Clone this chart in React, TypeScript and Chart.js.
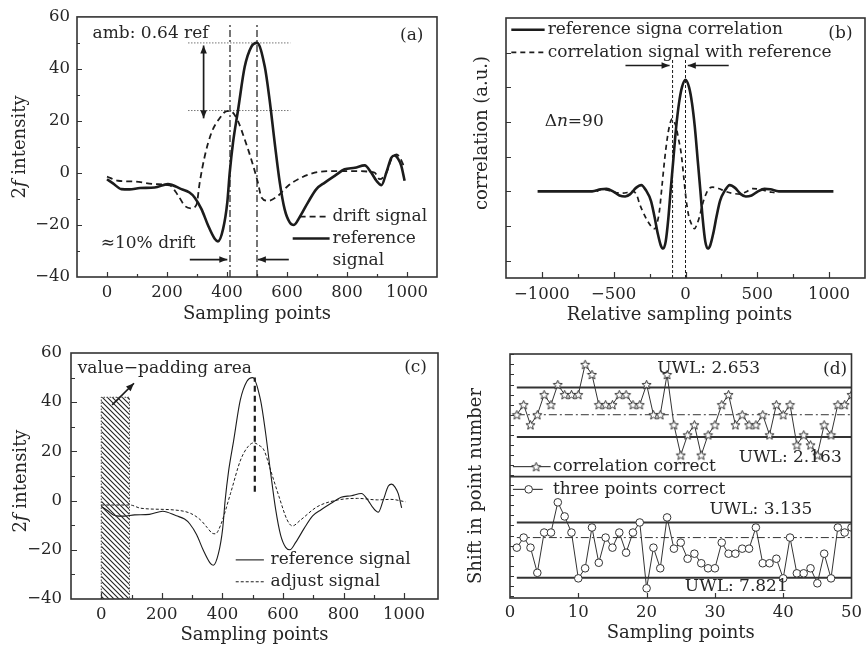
import React, { useEffect, useRef } from 'react';
import { Chart, registerables } from 'chart.js';

Chart.register(...registerables);

const FAMILY = '"DejaVu Serif", "Liberation Serif", serif';
const INK = '#262626';
const LINE = '#1c1c1c';
const FRAME = '#333333';

// ---------- Panel (a) / (c): 2f signals ----------
const refX = [0, 20, 48, 75, 110, 159, 203, 248, 275, 292, 315, 337, 359, 370, 387, 401, 409, 420, 437, 459, 481, 500, 526, 542, 559, 576, 592, 609, 623, 642, 670, 698, 726, 759, 792, 826, 859, 881, 898, 915, 931, 948, 959, 970, 981, 992];
const refY = [-2.4, -4, -6.2, -6.3, -5.8, -5.6, -4.3, -6.2, -7.5, -9.4, -13.9, -20.2, -25.3, -26.3, -21.5, -11.3, 0, 11.6, 24.3, 40.8, 48.5, 50, 40.8, 28.1, 11.6, -3.7, -13.9, -19, -20, -17, -11.3, -6.2, -3.7, -1.1, 1.4, 2.0, 2.9, 0.1, -3, -4.7, 0.1, 5.9, 6.7, 5.5, 2.7, -3];
const driftX = [0, 37, 92, 159, 209, 238, 259, 281, 298, 309, 326, 348, 376, 400, 415, 437, 459, 481, 503, 515, 537, 570, 603, 637, 692, 748, 826, 892, 909, 931, 948, 965, 976, 988];
const driftY = [-1.4, -3, -3.3, -4.3, -4.8, -8.8, -12.6, -13.6, -12.3, -3.7, 6.5, 15.4, 21.1, 23.8, 23.6, 19.8, 12.9, 5.2, -3.7, -9.4, -10.7, -8.8, -5, -2.4, 0.1, 0.7, 0.7, 0.1, -2.4, 0.1, 5.2, 7.1, 6, 3];
const adjX = [0, 95, 130, 240, 295, 328, 350, 367, 377, 394, 427, 460, 485, 504, 520, 537, 559, 587, 614, 631, 658, 713, 779, 846, 912, 956, 1005];
const adjY = [-1.8, -1.8, -3.1, -3.8, -5.2, -7.9, -11, -13.3, -13.5, -10, 3, 16.5, 22, 23.5, 22.5, 20.6, 12.4, 1.6, -7.9, -10.3, -7.9, -2.5, 0.2, 0.9, 0.3, 0.5, -0.5];
const aXTicks = [0, 200, 400, 600, 800, 1000];
const aYTicks = [-40, -20, 0, 20, 40, 60];
const aPeakX = [410, 500];
const aLevels = [50, 24];
const cPadX = [0, 93];
const cPadTop = 42;
const cPeakX = 507;

// ---------- Panel (b): correlation ----------
const corrRefX = [-1030, -800, -650, -590, -550, -505, -460, -420, -385, -345, -308, -274, -240, -215, -193, -172, -155, -138, -120, -104, -85, -65, -45, -25, 0, 25, 45, 65, 85, 104, 120, 138, 155, 172, 193, 215, 240, 274, 308, 345, 385, 420, 460, 505, 550, 590, 650, 800, 1030];
const corrRefY = [0, 0, 0, 0.06, 0.07, 0, -0.12, -0.15, -0.08, 0.1, 0.18, 0.02, -0.28, -0.75, -1.22, -1.56, -1.65, -1.45, -0.8, 0, 0.9, 1.85, 2.55, 3.0, 3.22, 3.0, 2.55, 1.85, 0.9, 0, -0.8, -1.45, -1.65, -1.56, -1.22, -0.75, -0.28, 0.02, 0.18, 0.1, -0.08, -0.15, -0.12, 0, 0.07, 0.06, 0, 0, 0];
const corrSigX = [-620, -590, -560, -520, -480, -440, -400, -367, -340, -320, -290, -265, -245, -230, -216, -200, -181, -165, -146, -128, -111, -93, -78, -65, -48, -30, -12, 5, 22, 40, 63, 80, 97, 120, 144, 165, 190, 230, 283, 330, 380, 420, 469, 520, 570, 620];
const corrSigY = [0, 0.05, 0.05, 0, -0.04, -0.05, -0.03, 0, -0.1, -0.36, -0.65, -0.85, -0.98, -1.06, -1.08, -0.95, -0.55, 0.1, 0.89, 1.5, 1.9, 2.09, 2.0, 1.85, 1.5, 1.09, 0.4, -0.26, -0.7, -0.93, -1.08, -0.95, -0.74, -0.35, -0.07, 0.08, 0.12, 0.08, -0.01, -0.06, -0.08, -0.02, 0.08, 0.06, 0, -0.04];
const bXTicks = [-1000, -500, 0, 500, 1000];
const bYTicks = [-2, -1, 0, 1, 2, 3, 4];
const bShiftX = [-90, 0];

// ---------- Panel (d): shift in point number ----------
const dIdx = [1, 2, 3, 4, 5, 6, 7, 8, 9, 10, 11, 12, 13, 14, 15, 16, 17, 18, 19, 20, 21, 22, 23, 24, 25, 26, 27, 28, 29, 30, 31, 32, 33, 34, 35, 36, 37, 38, 39, 40, 41, 42, 43, 44, 45, 46, 47, 48, 49, 50];
const starY = [18, 19, 17, 18, 20, 19, 21, 20, 20, 20, 23, 22, 19, 19, 19, 20, 20, 19, 19, 21, 18, 18, 22, 17, 14, 16, 17, 14, 16, 17, 19, 20, 17, 18, 17, 17, 18, 16, 19, 18, 19, 15, 16, 15, 14, 17, 16, 19, 19, 20];
const circY = [4.8, 5.8, 4.8, 2.3, 6.3, 6.3, 9.3, 7.9, 6.3, 1.75, 2.75, 6.8, 3.3, 5.8, 4.8, 6.3, 4.3, 6.3, 7.3, 0.76, 4.8, 2.75, 7.8, 4.7, 5.3, 3.7, 4.2, 3.25, 2.75, 2.75, 5.3, 4.2, 4.2, 4.7, 4.7, 6.8, 3.25, 3.25, 3.7, 1.75, 5.8, 2.25, 2.25, 2.75, 1.26, 4.2, 1.75, 6.8, 6.3, 6.8];
const dUwl = [20.7, 15.8, 7.3, 1.8];
const dMean = [18.0, 5.8];
const dSep = 11.85;
const dXTicks = [0, 10, 20, 30, 40, 50];
const dYTicks = [0, 1, 2, 3, 4, 5, 6, 7, 8, 9, 10, 11, 12, 13, 14, 15, 16, 17, 18, 19, 20, 21, 22, 23, 24];

// ---------- helpers ----------
type Seg = { t: string; it?: boolean };
type TextItem = { x: number; y: number; s: string | Seg[]; align?: 'left' | 'center' | 'right'; size?: number };
type ArrowItem = { x1: number; y1: number; x2: number; y2: number; both?: boolean };
type LegItem = { x1: number; x2: number; y: number; dash?: number[]; w: number; marker?: 'star' | 'circle'; mx?: number };
type Decor = {
  texts?: TextItem[];
  arrows?: ArrowItem[];
  legends?: LegItem[];
  xTitle: { s: string | Seg[]; dy: number; dx?: number };
  yTitle: { s: string | Seg[]; dx: number; dy?: number };
  ticks: { xLen: number; yLen: number; xMinor?: number[]; yMinor?: number[]; minLen?: number };
  star?: HTMLCanvasElement;
};

const fmt = (v: number) => (v < 0 ? '\u2212' + Math.abs(v) : String(v));
const fontOf = (it: boolean | undefined, size: number) => `${it ? 'italic ' : ''}${size}px ${FAMILY}`;

function drawSegs(ctx: CanvasRenderingContext2D, s: string | Seg[], x: number, y: number, align: string, size: number, rot = 0) {
  const parts: Seg[] = typeof s === 'string' ? [{ t: s }] : s;
  const widths = parts.map((p) => {
    ctx.font = fontOf(p.it, size);
    return ctx.measureText(p.t).width;
  });
  const total = widths.reduce((a, b) => a + b, 0);
  ctx.save();
  ctx.translate(x, y);
  if (rot) ctx.rotate(rot);
  let cx = align === 'left' ? 0 : align === 'right' ? -total : -total / 2;
  ctx.textBaseline = 'middle';
  ctx.textAlign = 'left';
  ctx.fillStyle = INK;
  parts.forEach((p, i) => {
    ctx.font = fontOf(p.it, size);
    ctx.fillText(p.t, cx, 0);
    cx += widths[i];
  });
  ctx.restore();
}

function head(ctx: CanvasRenderingContext2D, fx: number, fy: number, tx: number, ty: number) {
  const ang = Math.atan2(ty - fy, tx - fx);
  const L = 8, W = 3.3;
  ctx.beginPath();
  ctx.moveTo(tx, ty);
  ctx.lineTo(tx - L * Math.cos(ang) + W * Math.sin(ang), ty - L * Math.sin(ang) - W * Math.cos(ang));
  ctx.lineTo(tx - L * Math.cos(ang) - W * Math.sin(ang), ty - L * Math.sin(ang) + W * Math.cos(ang));
  ctx.closePath();
  ctx.fill();
}

function makeDecor(d: Decor) {
  return {
    id: 'decor',
    afterDatasetsDraw(chart: any) {
      const { ctx, chartArea: a, scales } = chart;
      const xs = scales.x, ys = scales.y;
      const X = (v: number) => xs.getPixelForValue(v);
      const Y = (v: number) => ys.getPixelForValue(v);
      ctx.save();
      // inner ticks
      ctx.strokeStyle = FRAME;
      ctx.lineWidth = 1.2;
      ctx.beginPath();
      const minLen = d.ticks.minLen ?? 3;
      xs.ticks.forEach((t: any) => {
        if (t.value <= xs.min || t.value >= xs.max) return;
        const px = Math.round(X(t.value)) + 0.5;
        ctx.moveTo(px, a.bottom);
        ctx.lineTo(px, a.bottom - d.ticks.xLen);
      });
      (d.ticks.xMinor || []).forEach((v) => {
        const px = Math.round(X(v)) + 0.5;
        ctx.moveTo(px, a.bottom);
        ctx.lineTo(px, a.bottom - minLen);
      });
      ys.ticks.forEach((t: any) => {
        if (t.value <= ys.min || t.value >= ys.max) return;
        const py = Math.round(Y(t.value)) + 0.5;
        ctx.moveTo(a.left, py);
        ctx.lineTo(a.left + d.ticks.yLen, py);
      });
      (d.ticks.yMinor || []).forEach((v) => {
        const py = Math.round(Y(v)) + 0.5;
        ctx.moveTo(a.left, py);
        ctx.lineTo(a.left + minLen, py);
      });
      ctx.stroke();
      // frame
      ctx.lineWidth = 1.6;
      ctx.strokeRect(a.left, a.top, a.right - a.left, a.bottom - a.top);
      // legends
      (d.legends || []).forEach((l) => {
        ctx.save();
        ctx.strokeStyle = LINE;
        ctx.lineWidth = l.w;
        ctx.setLineDash(l.dash || []);
        ctx.beginPath();
        ctx.moveTo(X(l.x1), Y(l.y));
        ctx.lineTo(X(l.x2), Y(l.y));
        ctx.stroke();
        ctx.setLineDash([]);
        if (l.marker === 'star' && d.star) {
          ctx.drawImage(d.star, X(l.mx!) - d.star.width / 2, Y(l.y) - d.star.height / 2);
        } else if (l.marker === 'circle') {
          ctx.beginPath();
          ctx.arc(X(l.mx!), Y(l.y), 3.8, 0, Math.PI * 2);
          ctx.fillStyle = '#fff';
          ctx.fill();
          ctx.lineWidth = 1;
          ctx.strokeStyle = '#333';
          ctx.stroke();
        }
        ctx.restore();
      });
      // arrows
      ctx.strokeStyle = LINE;
      ctx.fillStyle = LINE;
      ctx.lineWidth = 1.7;
      (d.arrows || []).forEach((r) => {
        const x1 = X(r.x1), y1 = Y(r.y1), x2 = X(r.x2), y2 = Y(r.y2);
        ctx.beginPath();
        ctx.moveTo(x1, y1);
        ctx.lineTo(x2, y2);
        ctx.stroke();
        head(ctx, x1, y1, x2, y2);
        if (r.both) head(ctx, x2, y2, x1, y1);
      });
      // texts
      (d.texts || []).forEach((t) => drawSegs(ctx, t.s, X(t.x), Y(t.y), t.align || 'left', t.size || 17));
      // axis titles
      drawSegs(ctx, d.xTitle.s, (a.left + a.right) / 2 + (d.xTitle.dx || 0), a.bottom + d.xTitle.dy, 'center', 18);
      drawSegs(ctx, d.yTitle.s, a.left - d.yTitle.dx, (a.top + a.bottom) / 2 + (d.yTitle.dy || 0), 'center', 18, -Math.PI / 2);
      ctx.restore();
    },
  };
}

type Area = { left: number; top: number; right: number; bottom: number };
type ScaleSpec = { min: number; max: number; ticks: number[]; pad: number; show?: boolean };

function mkScale(s: ScaleSpec, axis: 'x' | 'y', size: number) {
  return {
    type: 'linear',
    min: s.min,
    max: s.max,
    afterBuildTicks: (sc: any) => {
      sc.ticks = s.ticks.map((v) => ({ value: v }));
    },
    afterFit: (sc: any) => {
      if (axis === 'x') sc.height = size;
      else sc.width = size;
    },
    grid: { display: false, drawTicks: false },
    border: { display: false },
    ticks: {
      display: s.show !== false,
      padding: s.pad,
      color: INK,
      font: { family: FAMILY, size: 16.5 },
      autoSkip: false,
      maxRotation: 0,
      minRotation: 0,
      callback: (v: any) => fmt(Number(v)),
    },
  };
}

function baseConfig(w: number, h: number, area: Area, sx: ScaleSpec, sy: ScaleSpec, datasets: any[], decor: Decor) {
  return {
    type: 'line',
    data: { datasets },
    options: {
      responsive: false,
      animation: false,
      devicePixelRatio: 1,
      events: [],
      layout: { autoPadding: false, padding: { left: 0, top: area.top, right: w - area.right, bottom: 0 } },
      plugins: { legend: { display: false }, tooltip: { enabled: false }, title: { display: false } },
      elements: { point: { radius: 0 }, line: { tension: 0 } },
      scales: { x: mkScale(sx, 'x', h - area.bottom), y: mkScale(sy, 'y', area.left) },
    },
    plugins: [makeDecor(decor)],
  };
}

const pts = (xs: number[], ys: number[]) => xs.map((x, i) => ({ x, y: ys[i] }));
const curve = (xs: number[], ys: number[], o: any) => ({
  data: pts(xs, ys),
  borderColor: LINE,
  borderWidth: 2,
  pointRadius: 0,
  fill: false,
  cubicInterpolationMode: 'monotone',
  ...o,
});
const seg = (p: { x: number; y: number }[], o: any) => ({
  data: p,
  borderColor: LINE,
  borderWidth: 1,
  pointRadius: 0,
  fill: false,
  tension: 0,
  ...o,
});

const F2: Seg[] = [{ t: '2' }, { t: 'f', it: true }, { t: ' intensity' }];

// ---------- panel builders ----------
function buildA() {
  const area = { left: 77, top: 15, right: 437, bottom: 277 };
  const datasets = [
    curve(refX, refY, { borderWidth: 2.6 }),
    curve(driftX, driftY, { borderWidth: 1.8, borderDash: [6, 4] }),
    ...aPeakX.map((x) => seg([{ x, y: -40 }, { x, y: 57 }], { borderDash: [7, 3, 2, 3], borderWidth: 1.2 })),
    ...aLevels.map((y) => seg([{ x: 270, y }, { x: 611, y }], { borderDash: [1.5, 1.5], borderColor: '#777', borderWidth: 1 })),
  ];
  const decor: Decor = {
    texts: [
      { x: -48, y: 53.5, s: 'amb: 0.64 ref' },
      { x: 1016, y: 53, s: '(a)', align: 'center' },
      { x: -21, y: -27.1, s: '\u224810% drift' },
      { x: 752, y: -16.8, s: 'drift signal' },
      { x: 752, y: -25.2, s: 'reference' },
      { x: 752, y: -33.6, s: 'signal' },
    ],
    legends: [
      { x1: 642, x2: 742, y: -16.8, dash: [6, 4], w: 1.8 },
      { x1: 619, x2: 742, y: -25.2, w: 2.6 },
    ],
    arrows: [
      { x1: 322, y1: 21, x2: 322, y2: 49, both: true },
      { x1: 276, y1: -33.3, x2: 401, y2: -33.3 },
      { x1: 606, y1: -33.3, x2: 503, y2: -33.3 },
    ],
    xTitle: { s: 'Sampling points', dy: 37 },
    yTitle: { s: F2, dx: 57 },
    ticks: { xLen: 5, yLen: 5, xMinor: [100, 300, 500, 700, 900], yMinor: [-30, -10, 10, 30, 50] },
  };
  return baseConfig(440, 330, area, { min: -100, max: 1100, ticks: aXTicks, pad: 6 }, { min: -40, max: 60, ticks: aYTicks, pad: 7 }, datasets, decor);
}

function buildB() {
  const area = { left: 66, top: 18, right: 425, bottom: 278 };
  const datasets = [
    curve(corrRefX, corrRefY, { borderWidth: 2.6 }),
    curve(corrSigX, corrSigY, { borderWidth: 1.7, borderDash: [5, 4] }),
    ...bShiftX.map((x) => seg([{ x, y: -2.5 }, { x, y: 3.83 }], { borderDash: [3, 2], borderWidth: 1 })),
  ];
  const decor: Decor = {
    texts: [
      { x: -960, y: 4.66, s: 'reference signa correlation' },
      { x: -960, y: 4.01, s: 'correlation signal with reference' },
      { x: 1079, y: 4.55, s: '(b)', align: 'center' },
      { x: -981, y: 2.0, s: [{ t: '\u0394' }, { t: 'n', it: true }, { t: '=90' }] },
    ],
    legends: [
      { x1: -1213, x2: -981, y: 4.66, w: 2.6 },
      { x1: -1213, x2: -981, y: 4.01, dash: [5, 4], w: 1.7 },
    ],
    arrows: [
      { x1: -418, y1: 3.63, x2: -111, y2: 3.63 },
      { x1: 301, y1: 3.63, x2: 16, y2: 3.63 },
    ],
    xTitle: { s: 'Relative sampling points', dy: 37, dx: -6 },
    yTitle: { s: 'correlation (a.u.)', dx: 24, dy: -15 },
    ticks: { xLen: 6, yLen: 5, xMinor: [-750, -250, 250, 750], minLen: 4 },
  };
  return baseConfig(427, 330, area, { min: -1250, max: 1250, ticks: bXTicks, pad: 7 }, { min: -2.5, max: 5, ticks: bYTicks, pad: 7, show: false }, datasets, decor);
}

function buildC(cv: HTMLCanvasElement) {
  const tile = document.createElement('canvas');
  tile.width = 5;
  tile.height = 5;
  const g = tile.getContext('2d')!;
  g.strokeStyle = '#222';
  g.lineWidth = 1.1;
  g.beginPath();
  g.moveTo(-1, -1); g.lineTo(6, 6);
  g.moveTo(-1, 4); g.lineTo(1, 6);
  g.moveTo(4, -1); g.lineTo(6, 1);
  g.stroke();
  const pattern = cv.getContext('2d')!.createPattern(tile, 'repeat');
  const area = { left: 71, top: 23, right: 438, bottom: 269 };
  const datasets = [
    curve(refX, refY, { borderWidth: 1.1 }),
    curve(adjX, adjY, { borderWidth: 1, borderDash: [3, 2] }),
    seg([{ x: cPeakX, y: 3.6 }, { x: cPeakX, y: 50 }], { borderDash: [6, 4], borderWidth: 2.2 }),
    seg(
      [{ x: cPadX[0], y: -40 }, { x: cPadX[0], y: cPadTop }, { x: cPadX[1], y: cPadTop }, { x: cPadX[1], y: -40 }],
      { fill: 'start', backgroundColor: pattern, borderDash: [1.5, 1.5], borderColor: '#444', borderWidth: 1 }
    ),
  ];
  const decor: Decor = {
    texts: [
      { x: -78, y: 53.8, s: 'value\u2212padding area' },
      { x: 1038, y: 53.9, s: '(c)', align: 'center' },
      { x: 559, y: -24.1, s: 'reference signal' },
      { x: 559, y: -33, s: 'adjust signal' },
    ],
    legends: [
      { x1: 444, x2: 537, y: -24.1, w: 1.1 },
      { x1: 444, x2: 537, y: -33, dash: [3, 2], w: 1 },
    ],
    arrows: [{ x1: 36, y1: 38.9, x2: 108, y2: 47.7 }],
    xTitle: { s: 'Sampling points', dy: 36 },
    yTitle: { s: F2, dx: 50, dy: 5 },
    ticks: { xLen: 6, yLen: 6, xMinor: [100, 300, 500, 700, 900], yMinor: [-30, -10, 10, 30, 50], minLen: 4 },
  };
  return baseConfig(440, 318, area, { min: -100, max: 1112, ticks: aXTicks, pad: 6 }, { min: -40, max: 60, ticks: aYTicks, pad: 9 }, datasets, decor);
}

function buildD() {
  const s = 11;
  const star = document.createElement('canvas');
  star.width = s;
  star.height = s;
  const g = star.getContext('2d')!;
  g.beginPath();
  for (let i = 0; i < 10; i++) {
    const r = i % 2 === 0 ? 4.8 : 2.1;
    const ang = -Math.PI / 2 + (i * Math.PI) / 5;
    const px = s / 2 + r * Math.cos(ang);
    const py = s / 2 + 0.5 + r * Math.sin(ang);
    if (i === 0) g.moveTo(px, py);
    else g.lineTo(px, py);
  }
  g.closePath();
  g.fillStyle = '#fff';
  g.fill();
  g.strokeStyle = '#333';
  g.lineWidth = 1;
  g.stroke();

  const area = { left: 70, top: 24, right: 418, bottom: 268 };
  const datasets = [
    {
      data: pts(dIdx, starY),
      borderColor: '#333',
      borderWidth: 1,
      pointStyle: star,
      pointRadius: 5,
      fill: false,
      tension: 0,
    },
    {
      data: pts(dIdx, circY),
      borderColor: '#333',
      borderWidth: 1,
      pointStyle: 'circle',
      pointRadius: 3.8,
      pointBackgroundColor: '#fff',
      pointBorderColor: '#333',
      pointBorderWidth: 1,
      fill: false,
      tension: 0,
    },
    ...dUwl.map((y) => seg([{ x: 1, y }, { x: 50, y }], { borderWidth: 2, borderColor: '#333' })),
    ...dMean.map((y) => seg([{ x: 1, y }, { x: 50, y }], { borderWidth: 1, borderDash: [8, 3, 2, 3], borderColor: '#333' })),
    seg([{ x: 0, y: dSep }, { x: 50, y: dSep }], { borderWidth: 1.6, borderColor: '#333' }),
  ];
  const decor: Decor = {
    star,
    texts: [
      { x: 21.55, y: 22.61, s: 'UWL: 2.653' },
      { x: 47.6, y: 22.44, s: '(d)', align: 'center' },
      { x: 33.5, y: 13.7, s: 'UWL: 2.163' },
      { x: 29.2, y: 8.54, s: 'UWL: 3.135' },
      { x: 25.6, y: 0.92, s: 'UWL: 7.821' },
      { x: 6.3, y: 12.84, s: 'correlation correct' },
      { x: 6.3, y: 10.59, s: 'three points correct' },
    ],
    legends: [
      { x1: 0.43, x2: 5.95, y: 12.84, w: 1, marker: 'star', mx: 3.83 },
      { x1: 0.43, x2: 4.79, y: 10.59, w: 1, marker: 'circle', mx: 2.73 },
    ],
    xTitle: { s: 'Sampling points', dy: 35 },
    yTitle: { s: 'Shift in point number', dx: 34, dy: 10 },
    ticks: { xLen: 5, yLen: 4 },
  };
  return baseConfig(427, 318, area, { min: 0, max: 50, ticks: dXTicks, pad: 5 }, { min: -0.2, max: 24.03, ticks: dYTicks, pad: 7, show: false }, datasets, decor);
}

function ChartBox(props: { x: number; y: number; w: number; h: number; build: (cv: HTMLCanvasElement) => any }) {
  const ref = useRef<HTMLCanvasElement>(null);
  useEffect(() => {
    const cv = ref.current!;
    const chart = new Chart(cv, props.build(cv));
    return () => chart.destroy();
  }, []);
  return (
    <canvas
      ref={ref}
      width={props.w}
      height={props.h}
      style={{ position: 'absolute', left: props.x, top: props.y, width: props.w, height: props.h }}
    />
  );
}

export default function App() {
  return (
    <div style={{ position: 'fixed', left: 0, top: 0, width: 867, height: 648, background: '#fff', overflow: 'hidden' }}>
      <ChartBox x={0} y={0} w={440} h={330} build={buildA} />
      <ChartBox x={440} y={0} w={427} h={330} build={buildB} />
      <ChartBox x={0} y={330} w={440} h={318} build={buildC} />
      <ChartBox x={440} y={330} w={427} h={318} build={buildD} />
    </div>
  );
}
